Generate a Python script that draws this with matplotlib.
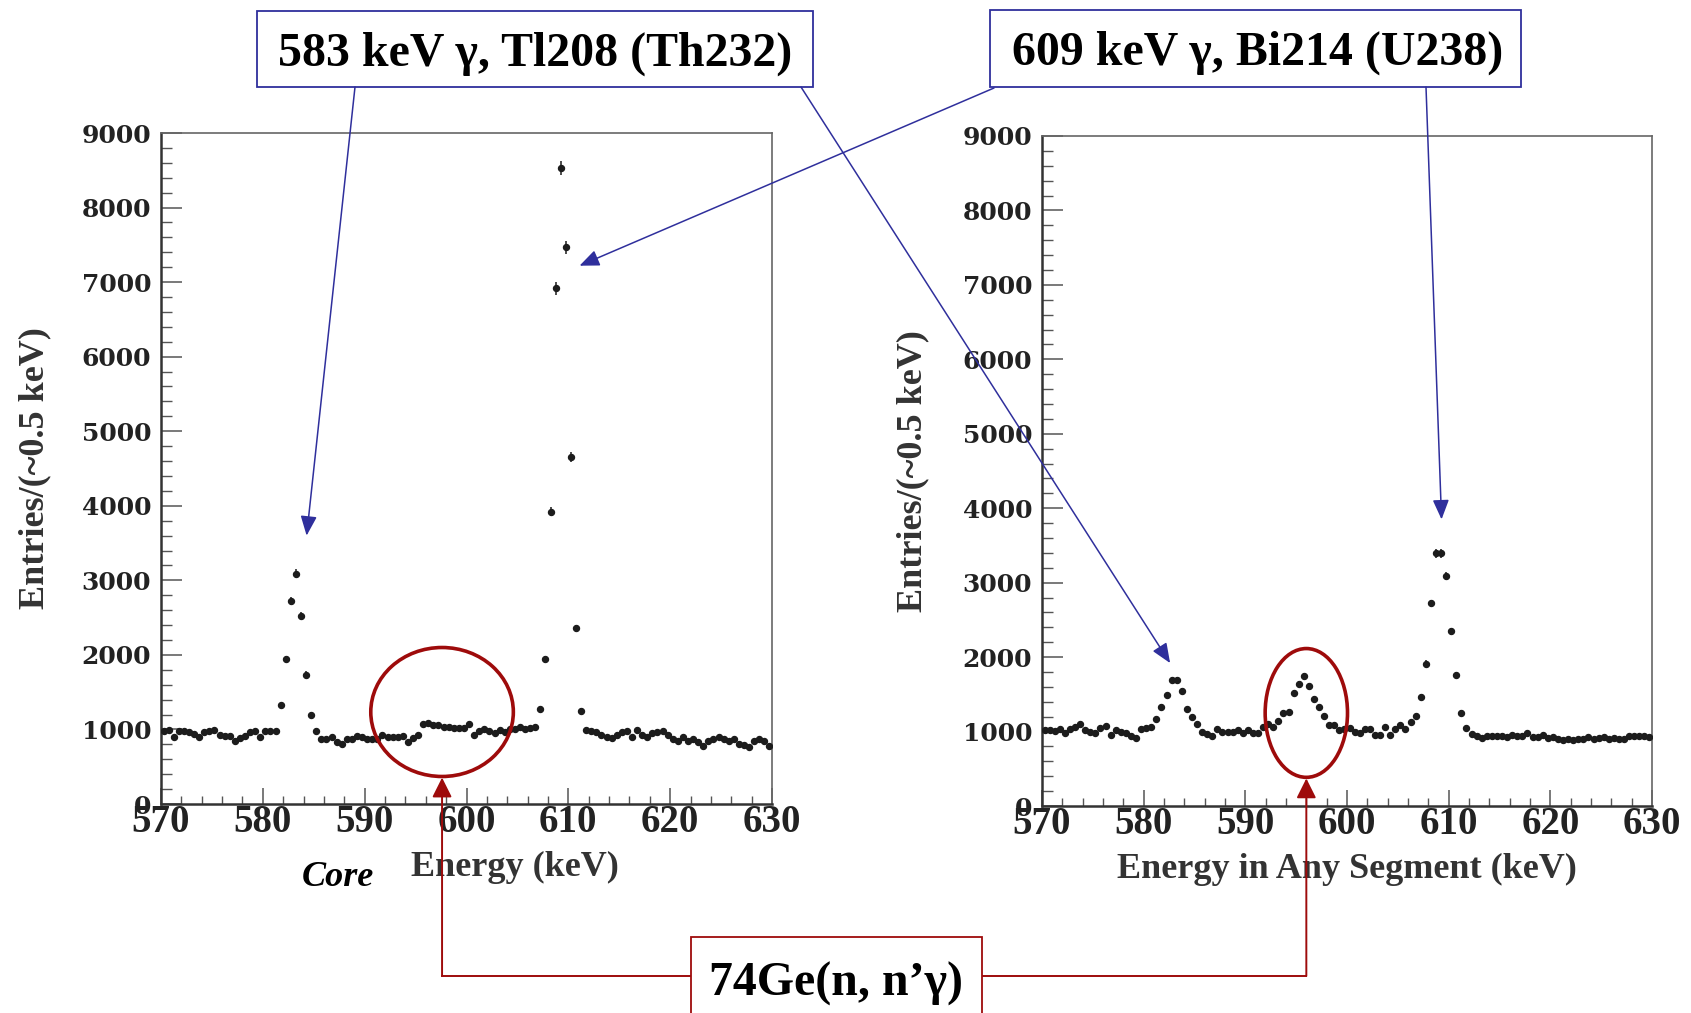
import numpy as np
import matplotlib
matplotlib.use("Agg")
import matplotlib.pyplot as plt
from matplotlib.patches import Ellipse, ConnectionPatch, Rectangle
from matplotlib.lines import Line2D

# ---------------------------------------------------------------- data
# 0.5 keV bins from 570 to 630 keV
bin_edges = np.linspace(570.0, 630.0, 121)
energy = 0.5 * (bin_edges[:-1] + bin_edges[1:])

core_counts = [
    985, 990, 900, 973, 973, 960, 942, 900, 960, 973,
    990, 930, 918, 918, 850, 887, 918, 960, 973, 900,
    973, 980, 980, 1324, 1946, 2728, 3091, 2525, 1736, 1200,
    985, 870, 870, 900, 837, 807, 870, 870, 911, 900,
    870, 870, 870, 930, 900, 900, 900, 911, 837, 887,
    930, 1071, 1084, 1065, 1053, 1034, 1034, 1022, 1022, 1022,
    1071, 930, 973, 1004, 973, 950, 990, 960, 1010, 1000,
    1034, 1010, 1020, 1034, 1268, 1940, 3922, 6915, 8534, 7469,
    4655, 2358, 1250, 990, 975, 960, 930, 900, 885, 930,
    960, 980, 900, 990, 930, 900, 950, 960, 980, 930,
    870, 840, 900, 840, 870, 825, 780, 840, 870, 900,
    870, 840, 870, 810, 790, 765, 840, 870, 840, 780,
]

segment_counts = [
    1020, 1015, 1005, 1037, 983, 1037, 1060, 1095, 1015, 992,
    983, 1050, 1069, 960, 1015, 1000, 983, 947, 916, 1037,
    1050, 1060, 1163, 1329, 1486, 1698, 1688, 1545, 1298, 1194,
    1095, 992, 970, 947, 1037, 1000, 1000, 1000, 1015, 985,
    1015, 985, 985, 1060, 1095, 1060, 1136, 1248, 1262, 1522,
    1643, 1747, 1607, 1441, 1329, 1203, 1082, 1082, 1015, 1037,
    1046, 1000, 983, 1037, 1030, 960, 960, 1060, 960, 1037,
    1082, 1030, 1127, 1203, 1464, 1913, 2721, 3395, 3395, 3094,
    2348, 1756, 1248, 1046, 961, 938, 916, 938, 938, 947,
    947, 930, 960, 935, 945, 975, 930, 925, 960, 920,
    930, 905, 890, 900, 880, 895, 905, 930, 900, 915,
    925, 900, 915, 905, 905, 935, 940, 945, 940, 930,
]

x_ticks = [570, 580, 590, 600, 610, 620, 630]
y_ticks = [0, 1000, 2000, 3000, 4000, 5000, 6000, 7000, 8000, 9000]

ylabel = "Entries/(~0.5 keV)"
core_xlabel = "Energy (keV)"
segment_xlabel = "Energy in Any Segment (keV)"
th_label = "583 keV \u03b3, Tl208 (Th232)"
bi_label = "609 keV \u03b3, Bi214 (U238)"
ge_label = "74Ge(n, n\u2019\u03b3)"

# peak positions pointed at by the callouts (keV, counts)
th_core_tip = (584.3, 3600)
th_seg_tip = (582.6, 1920)
bi_core_tip = (611.1, 7220)
bi_seg_tip = (609.3, 3850)
# 74Ge(n,n'gamma) region markers: centre (keV, counts), width (keV), height (counts)
ge_core_ring = (597.6, 1234, 14.0, 1730)
ge_seg_ring = (596.0, 1250, 8.1, 1730)

# ---------------------------------------------------------------- style
plt.rcParams["font.family"] = ["Liberation Serif", "DejaVu Serif"]
plt.rcParams["font.weight"] = "bold"
plt.rcParams["axes.labelweight"] = "bold"

W, H = 1691, 1013
fig = plt.figure(figsize=(W / 100, H / 100), dpi=100)
fig.patch.set_facecolor("white")


def px_rect(x0, y0, x1, y1):
    return [x0 / W, 1 - y1 / H, (x1 - x0) / W, (y1 - y0) / H]


def fig_pt(x, y):
    return (x / W, 1 - y / H)


ax_core = fig.add_axes(px_rect(161, 133, 772, 804))
ax_seg = fig.add_axes(px_rect(1042, 136, 1652, 806))

blue = "#2f2f9c"
red = "#9e0b0b"
ink = "#1c1c1c"


def draw_panel(ax, counts, xlabel, xlabel_x, ylabel_x):
    counts = np.asarray(counts, dtype=float)
    ax.errorbar(energy, counts, yerr=np.sqrt(counts), fmt="o", ms=4.3,
                color=ink, mec=ink, elinewidth=1.1, capsize=0, zorder=3)
    ax.set_xlim(570, 630)
    ax.set_ylim(0, 9000)
    ax.set_xticks(x_ticks)
    ax.set_xticks(np.arange(570, 631, 2), minor=True)
    ax.set_yticks(y_ticks)
    ax.set_yticks(np.arange(0, 9001, 200), minor=True)
    ax.tick_params(axis="x", which="major", direction="in", length=11.5,
                   width=1.1, color="#555555", pad=0, labelsize=28,
                   labelcolor="#222222")
    ax.tick_params(axis="x", which="minor", direction="in", length=5.8,
                   width=1.0, color="#555555")
    ax.tick_params(axis="y", which="major", direction="in", length=15,
                   width=1.1, color="#555555", pad=7, labelsize=18,
                   labelcolor="#222222", labelfontfamily="DejaVu Serif")
    ax.tick_params(axis="y", which="minor", direction="in", length=7.6,
                   width=1.0, color="#555555")
    for side in ("top", "right"):
        ax.spines[side].set_color("#666666")
        ax.spines[side].set_linewidth(1.2)
    for side in ("left", "bottom"):
        ax.spines[side].set_color("#333333")
        ax.spines[side].set_linewidth(1.8)
    ax.set_xlabel(xlabel, fontsize=26, color="#333333", va="baseline",
                  fontweight="bold")
    ax.xaxis.set_label_coords(xlabel_x, -0.107)
    ax.set_ylabel(ylabel, fontsize=26, color="#333333", fontweight="bold")
    ax.yaxis.set_label_coords(ylabel_x, 0.5)


draw_panel(ax_core, core_counts, core_xlabel, 0.579, -0.180)
draw_panel(ax_seg, segment_counts, segment_xlabel, 0.5, -0.184)

fig.text(*fig_pt(338, 886), "Core", fontsize=26, style="italic",
         fontweight="bold", ha="center", va="baseline", color="black")

# ---------------------------------------------------------------- 74Ge rings
for ax, (cx, cy, w, h) in ((ax_core, ge_core_ring), (ax_seg, ge_seg_ring)):
    ax.add_patch(Ellipse((cx, cy), w, h, fill=False, edgecolor=red,
                         lw=2.6, zorder=4))


# ---------------------------------------------------------------- callout boxes
def callout(x0, y0, x1, y1, text, edge, tx, ty):
    fig.add_artist(Rectangle((x0 / W, 1 - y1 / H), (x1 - x0) / W,
                             (y1 - y0) / H, transform=fig.transFigure,
                             facecolor="white", edgecolor=edge, lw=1.3,
                             zorder=6))
    fig.text(tx / W, 1 - ty / H, text, fontsize=34.5, ha="center",
             va="baseline", color="black", fontweight="bold", zorder=7)


callout(257, 11, 813, 87, th_label, blue, 535, 66)
callout(990, 10, 1521, 87, bi_label, blue, 1258, 65)
callout(691, 937, 982, 1030, ge_label, red, 836, 996)


# ---------------------------------------------------------------- arrows
def arrow(start_px, ax, tip, color, lw):
    con = ConnectionPatch(xyA=fig_pt(*start_px), coordsA="figure fraction",
                          xyB=tip, coordsB="data", axesB=ax,
                          arrowstyle="-|>,head_length=0.6,head_width=0.25",
                          mutation_scale=20, color=color, lw=lw, zorder=8)
    fig.add_artist(con)


arrow((355, 87), ax_core, th_core_tip, blue, 1.1)
arrow((801, 87), ax_seg, th_seg_tip, blue, 1.1)
arrow((994, 88), ax_core, bi_core_tip, blue, 1.1)
arrow((1426, 87), ax_seg, bi_seg_tip, blue, 1.1)

# red leaders from the 74Ge box up to the bottom of each ring
line_y = 1 - 976 / H
for ax, (cx, cy, w, h), box_x in ((ax_core, ge_core_ring, 691 / W),
                                  (ax_seg, ge_seg_ring, 982 / W)):
    tip = (cx, cy - h / 2 - 15)
    fx = fig.transFigure.inverted().transform(ax.transData.transform((cx, 0)))[0]
    fig.add_artist(Line2D([box_x, fx], [line_y, line_y],
                          transform=fig.transFigure, color=red, lw=1.4,
                          zorder=5))
    con = ConnectionPatch(xyA=(fx, line_y), coordsA="figure fraction",
                          xyB=tip, coordsB="data", axesB=ax,
                          arrowstyle="-|>,head_length=0.6,head_width=0.3",
                          mutation_scale=20, color=red, lw=1.4, zorder=8)
    fig.add_artist(con)

fig.savefig("out.png", dpi=100, facecolor="white")
